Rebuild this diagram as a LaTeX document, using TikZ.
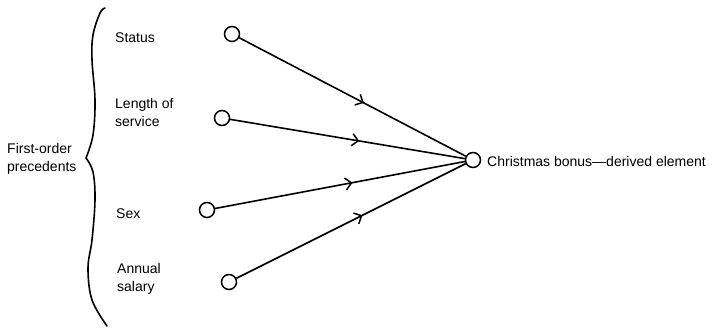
\documentclass[tikz,border=0pt]{standalone}
\usepackage{fontspec}
\setmainfont{Liberation Sans}
\usetikzlibrary{arrows.meta,decorations.markings}
\tikzset{
  dot/.style={circle,draw,line width=1.5pt,minimum size=15pt,inner sep=0pt},
  lbl/.style={font=\fontsize{14}{18}\selectfont,align=left,inner sep=0pt,anchor=west},
  link/.style={line width=1.6pt,postaction={decorate},
    decoration={markings,mark=at position 0.55 with {\arrow{Straight Barb[length=6pt,width=12pt,line width=1.5pt]}}}},
  bracestyle/.style={line width=1.6pt,line cap=round}
}
\begin{document}
\begin{tikzpicture}[x=1pt,y=-1pt]
\useasboundingbox (0,0) rectangle (724,328);
% circles
\node[dot] (s) at (232,34) {};
\node[dot] (l) at (222,118) {};
\node[dot] (x) at (207,210) {};
\node[dot] (a) at (229,282) {};
\node[dot] (t) at (473,160) {};
% labels
\node[lbl] (ls) at (115,38) {Status};
\node[lbl] (ll) at (115,113) {Length of\\service};
\node[lbl] (lx) at (116,214) {Sex};
\node[lbl] (la) at (117,279) {Annual\\salary};
\node[lbl] (lf) at (7,159) {First-order\\precedents};
\node[lbl] (lt) at (487,162) {Christmas bonus—derived element};
% connectors
\draw[link] (s) -- (t);
\draw[link] (l) -- (t);
\draw[link] (x) -- (t);
\draw[link] (a) -- (t);
% brace
\draw[bracestyle] plot[smooth,tension=0.6] coordinates {(105,8) (100,13) (93,35) (92,60) (95,100) (93,135) (86,158)};
\draw[bracestyle] plot[smooth,tension=0.6] coordinates {(86,158) (93,172) (95,200) (92,240) (88,268) (92,300) (107,326)};
\end{tikzpicture}
\end{document}
